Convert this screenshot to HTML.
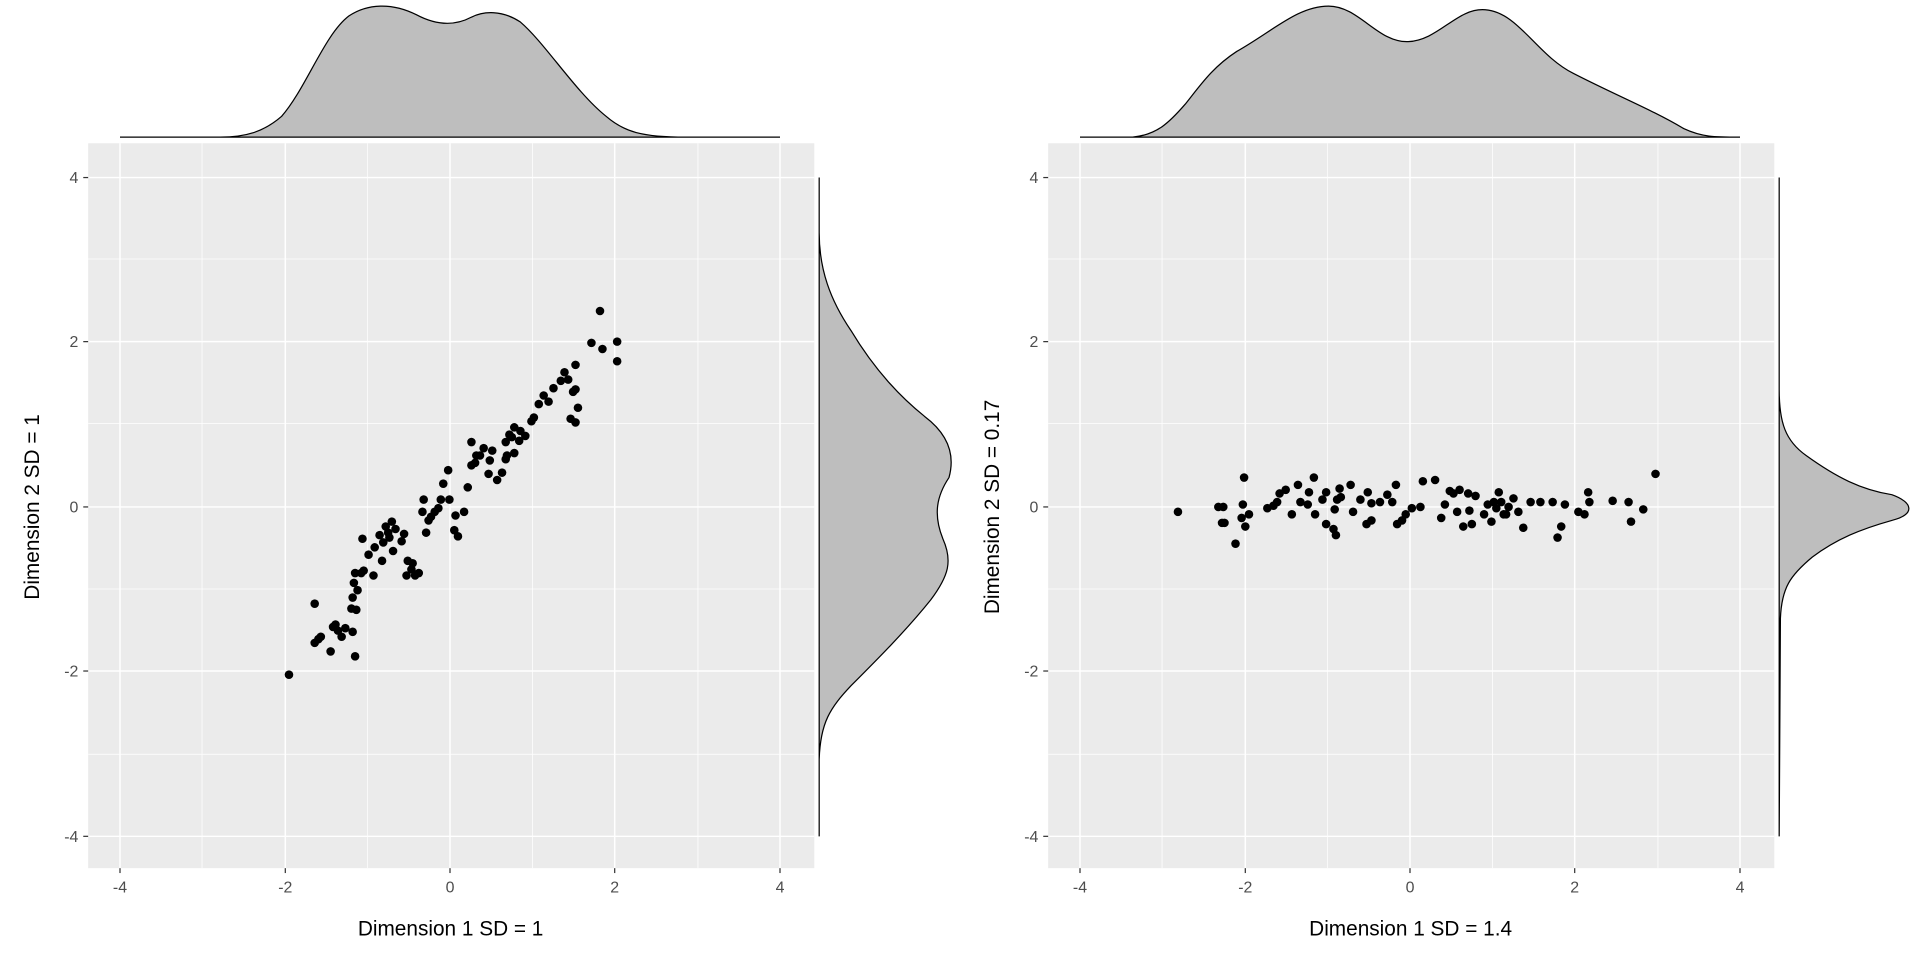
<!DOCTYPE html>
<html><head><meta charset="utf-8"><style>body{margin:0;background:#fff}svg{display:block}</style></head>
<body>
<svg width="1920" height="960" viewBox="0 0 1568 784" xmlns="http://www.w3.org/2000/svg" font-family="Liberation Sans, sans-serif">
<rect width="1568" height="784" fill="#fff"/>
<g id="p1">
<rect x="72" y="117" width="593" height="592" fill="#ebebeb"/>
<g stroke="#fff" stroke-width="0.6">
<line x1="72" x2="665" y1="211.5" y2="211.5"/><line x1="72" x2="665" y1="346" y2="346"/><line x1="72" x2="665" y1="481" y2="481"/><line x1="72" x2="665" y1="616" y2="616"/>
<line y1="117" y2="709" x1="165" x2="165"/><line y1="117" y2="709" x1="300" x2="300"/><line y1="117" y2="709" x1="435" x2="435"/><line y1="117" y2="709" x1="570" x2="570"/>
</g>
<g stroke="#fff" stroke-width="1.2">
<line x1="72" x2="665" y1="145" y2="145"/><line x1="72" x2="665" y1="279" y2="279"/><line x1="72" x2="665" y1="414" y2="414"/><line x1="72" x2="665" y1="548" y2="548"/><line x1="72" x2="665" y1="683" y2="683"/>
<line y1="117" y2="709" x1="98" x2="98"/><line y1="117" y2="709" x1="233" x2="233"/><line y1="117" y2="709" x1="367.5" x2="367.5"/><line y1="117" y2="709" x1="502" x2="502"/><line y1="117" y2="709" x1="637" x2="637"/>
</g>
<g stroke="#333" stroke-width="1">
<line x1="68" x2="72" y1="145" y2="145"/><line x1="68" x2="72" y1="279" y2="279"/><line x1="68" x2="72" y1="414" y2="414"/><line x1="68" x2="72" y1="548" y2="548"/><line x1="68" x2="72" y1="683" y2="683"/>
<line y1="709" y2="713" x1="98" x2="98"/><line y1="709" y2="713" x1="233" x2="233"/><line y1="709" y2="713" x1="367.5" x2="367.5"/><line y1="709" y2="713" x1="502" x2="502"/><line y1="709" y2="713" x1="637" x2="637"/>
</g>
<g fill="#4d4d4d" font-size="13" text-anchor="end">
<text x="64" y="149.5">4</text><text x="64" y="283.5">2</text><text x="64" y="418.5">0</text><text x="64" y="552.5">-2</text><text x="64" y="687.5">-4</text>
</g>
<g fill="#4d4d4d" font-size="13" text-anchor="middle">
<text x="98" y="729">-4</text><text x="233" y="729">-2</text><text x="367.5" y="729">0</text><text x="502" y="729">2</text><text x="637" y="729">4</text>
</g>
<text x="368" y="764" font-size="17" text-anchor="middle">Dimension 1 SD = 1</text>
<text transform="translate(32,414) rotate(-90)" font-size="17" text-anchor="middle">Dimension 2 SD = 1</text>
<path d="M98,112 L180,112 C200,112 215,108 230,95 C250,72 265,28 285,13 C300,3 320,2 340,12 C355,20 370,22 385,14 C395,9 410,8 425,18 C445,35 470,75 495,95 C510,108 525,112 560,112 L637,112 Z" fill="#bebebe" stroke="#000" stroke-width="1"/>
<path d="M669,145 L669,190 C669,220 678,245 695,270 C710,295 730,320 755,340 C775,355 780,372 775,390 C765,405 762,420 770,440 C778,458 775,470 760,490 C740,515 715,540 695,560 C678,578 670,590 669,620 L669,683 Z" fill="#bebebe" stroke="#000" stroke-width="1"/>
<g fill="#000">
<circle cx="236" cy="551" r="3.5"/><circle cx="257" cy="493" r="3.5"/><circle cx="257" cy="525" r="3.5"/><circle cx="260" cy="522" r="3.5"/><circle cx="262" cy="520" r="3.5"/><circle cx="270" cy="532" r="3.5"/><circle cx="272" cy="512" r="3.5"/><circle cx="274" cy="510" r="3.5"/><circle cx="276" cy="515" r="3.5"/><circle cx="279" cy="520" r="3.5"/><circle cx="282" cy="513" r="3.5"/><circle cx="288" cy="516" r="3.5"/><circle cx="290" cy="536" r="3.5"/><circle cx="288" cy="488" r="3.5"/><circle cx="289" cy="476" r="3.5"/><circle cx="290" cy="468" r="3.5"/><circle cx="291" cy="498" r="3.5"/><circle cx="287" cy="497" r="3.5"/><circle cx="292" cy="482" r="3.5"/><circle cx="295" cy="468" r="3.5"/><circle cx="297" cy="466" r="3.5"/><circle cx="296" cy="440" r="3.5"/><circle cx="301" cy="453" r="3.5"/><circle cx="305" cy="470" r="3.5"/><circle cx="306" cy="447" r="3.5"/><circle cx="310" cy="437" r="3.5"/><circle cx="313" cy="443" r="3.5"/><circle cx="312" cy="458" r="3.5"/><circle cx="315" cy="430" r="3.5"/><circle cx="318" cy="439" r="3.5"/><circle cx="317" cy="435" r="3.5"/><circle cx="320" cy="426" r="3.5"/><circle cx="323" cy="432" r="3.5"/><circle cx="321" cy="450" r="3.5"/><circle cx="328" cy="442" r="3.5"/><circle cx="330" cy="436" r="3.5"/><circle cx="332" cy="470" r="3.5"/><circle cx="333" cy="458" r="3.5"/><circle cx="336" cy="465" r="3.5"/><circle cx="337" cy="460" r="3.5"/><circle cx="339" cy="470" r="3.5"/><circle cx="342" cy="468" r="3.5"/><circle cx="348" cy="435" r="3.5"/><circle cx="350" cy="425" r="3.5"/><circle cx="346" cy="408" r="3.5"/><circle cx="352" cy="422" r="3.5"/><circle cx="355" cy="418" r="3.5"/><circle cx="358" cy="415" r="3.5"/><circle cx="362" cy="395" r="3.5"/><circle cx="366" cy="384" r="3.5"/><circle cx="371" cy="433" r="3.5"/><circle cx="372" cy="421" r="3.5"/><circle cx="374" cy="438" r="3.5"/><circle cx="379" cy="418" r="3.5"/><circle cx="382" cy="398" r="3.5"/><circle cx="385" cy="380" r="3.5"/><circle cx="388" cy="378" r="3.5"/><circle cx="389" cy="372" r="3.5"/><circle cx="392" cy="372" r="3.5"/><circle cx="395" cy="366" r="3.5"/><circle cx="399" cy="387" r="3.5"/><circle cx="400" cy="376" r="3.5"/><circle cx="402" cy="368" r="3.5"/><circle cx="406" cy="392" r="3.5"/><circle cx="410" cy="386" r="3.5"/><circle cx="413" cy="375" r="3.5"/><circle cx="413" cy="361" r="3.5"/><circle cx="414" cy="372" r="3.5"/><circle cx="418" cy="357" r="3.5"/><circle cx="420" cy="370" r="3.5"/><circle cx="416" cy="355" r="3.5"/><circle cx="420" cy="349" r="3.5"/><circle cx="424" cy="360" r="3.5"/><circle cx="425" cy="352" r="3.5"/><circle cx="429" cy="356" r="3.5"/><circle cx="434" cy="344" r="3.5"/><circle cx="436" cy="341" r="3.5"/><circle cx="440" cy="330" r="3.5"/><circle cx="444" cy="323" r="3.5"/><circle cx="448" cy="328" r="3.5"/><circle cx="452" cy="317" r="3.5"/><circle cx="458" cy="311" r="3.5"/><circle cx="461" cy="304" r="3.5"/><circle cx="464" cy="310" r="3.5"/><circle cx="468" cy="320" r="3.5"/><circle cx="466" cy="342" r="3.5"/><circle cx="470" cy="345" r="3.5"/><circle cx="472" cy="333" r="3.5"/><circle cx="470" cy="298" r="3.5"/><circle cx="470" cy="318" r="3.5"/><circle cx="483" cy="280" r="3.5"/><circle cx="490" cy="254" r="3.5"/><circle cx="492" cy="285" r="3.5"/><circle cx="504" cy="279" r="3.5"/><circle cx="504" cy="295" r="3.5"/><circle cx="385" cy="361" r="3.5"/><circle cx="367" cy="408" r="3.5"/><circle cx="360" cy="408" r="3.5"/><circle cx="345" cy="418" r="3.5"/>
</g>
</g>
<g id="p2">
<rect x="856" y="117" width="593" height="592" fill="#ebebeb"/>
<g stroke="#fff" stroke-width="0.6">
<line x1="856" x2="1449" y1="211.5" y2="211.5"/><line x1="856" x2="1449" y1="346" y2="346"/><line x1="856" x2="1449" y1="481" y2="481"/><line x1="856" x2="1449" y1="616" y2="616"/>
<line y1="117" y2="709" x1="949" x2="949"/><line y1="117" y2="709" x1="1084" x2="1084"/><line y1="117" y2="709" x1="1219" x2="1219"/><line y1="117" y2="709" x1="1354" x2="1354"/>
</g>
<g stroke="#fff" stroke-width="1.2">
<line x1="856" x2="1449" y1="145" y2="145"/><line x1="856" x2="1449" y1="279" y2="279"/><line x1="856" x2="1449" y1="414" y2="414"/><line x1="856" x2="1449" y1="548" y2="548"/><line x1="856" x2="1449" y1="683" y2="683"/>
<line y1="117" y2="709" x1="882" x2="882"/><line y1="117" y2="709" x1="1017" x2="1017"/><line y1="117" y2="709" x1="1151.5" x2="1151.5"/><line y1="117" y2="709" x1="1286" x2="1286"/><line y1="117" y2="709" x1="1421" x2="1421"/>
</g>
<g stroke="#333" stroke-width="1">
<line x1="852" x2="856" y1="145" y2="145"/><line x1="852" x2="856" y1="279" y2="279"/><line x1="852" x2="856" y1="414" y2="414"/><line x1="852" x2="856" y1="548" y2="548"/><line x1="852" x2="856" y1="683" y2="683"/>
<line y1="709" y2="713" x1="882" x2="882"/><line y1="709" y2="713" x1="1017" x2="1017"/><line y1="709" y2="713" x1="1151.5" x2="1151.5"/><line y1="709" y2="713" x1="1286" x2="1286"/><line y1="709" y2="713" x1="1421" x2="1421"/>
</g>
<g fill="#4d4d4d" font-size="13" text-anchor="end">
<text x="848" y="149.5">4</text><text x="848" y="283.5">2</text><text x="848" y="418.5">0</text><text x="848" y="552.5">-2</text><text x="848" y="687.5">-4</text>
</g>
<g fill="#4d4d4d" font-size="13" text-anchor="middle">
<text x="882" y="729">-4</text><text x="1017" y="729">-2</text><text x="1151.5" y="729">0</text><text x="1286" y="729">2</text><text x="1421" y="729">4</text>
</g>
<text x="1152" y="764" font-size="17" text-anchor="middle">Dimension 1 SD = 1.4</text>
<text transform="translate(816,414) rotate(-90)" font-size="17" text-anchor="middle">Dimension 2 SD = 0.17</text>
<path d="M882,112 L925,112 C945,110 955,100 968,85 C980,70 990,55 1010,42 C1040,25 1060,5 1085,5 C1110,5 1125,35 1150,34 C1175,33 1190,6 1213,8 C1240,10 1255,45 1285,60 C1320,78 1350,90 1375,105 C1390,112 1400,112 1421,112 Z" fill="#bebebe" stroke="#000" stroke-width="1"/>
<path d="M1453,145 L1453,318 C1453,345 1458,360 1475,372 C1500,390 1520,400 1545,404 C1562,410 1565,420 1545,425 C1520,432 1500,440 1480,455 C1462,470 1455,480 1454,505 L1453,683 Z" fill="#bebebe" stroke="#000" stroke-width="1"/>
<g fill="#000">
<circle cx="962" cy="418" r="3.5"/><circle cx="995" cy="414" r="3.5"/><circle cx="999" cy="414" r="3.5"/><circle cx="998" cy="427" r="3.5"/><circle cx="1009" cy="444" r="3.5"/><circle cx="1016" cy="390" r="3.5"/><circle cx="1015" cy="412" r="3.5"/><circle cx="1014" cy="423" r="3.5"/><circle cx="1017" cy="430" r="3.5"/><circle cx="1020" cy="420" r="3.5"/><circle cx="1035" cy="415" r="3.5"/><circle cx="1040" cy="413" r="3.5"/><circle cx="1043" cy="410" r="3.5"/><circle cx="1045" cy="403" r="3.5"/><circle cx="1050" cy="400" r="3.5"/><circle cx="1055" cy="420" r="3.5"/><circle cx="1060" cy="396" r="3.5"/><circle cx="1062" cy="410" r="3.5"/><circle cx="1068" cy="412" r="3.5"/><circle cx="1069" cy="402" r="3.5"/><circle cx="1073" cy="390" r="3.5"/><circle cx="1074" cy="420" r="3.5"/><circle cx="1080" cy="408" r="3.5"/><circle cx="1083" cy="402" r="3.5"/><circle cx="1083" cy="428" r="3.5"/><circle cx="1089" cy="432" r="3.5"/><circle cx="1090" cy="416" r="3.5"/><circle cx="1091" cy="437" r="3.5"/><circle cx="1092" cy="408" r="3.5"/><circle cx="1094" cy="399" r="3.5"/><circle cx="1103" cy="396" r="3.5"/><circle cx="1105" cy="418" r="3.5"/><circle cx="1111" cy="408" r="3.5"/><circle cx="1116" cy="428" r="3.5"/><circle cx="1117" cy="402" r="3.5"/><circle cx="1120" cy="411" r="3.5"/><circle cx="1127" cy="410" r="3.5"/><circle cx="1133" cy="404" r="3.5"/><circle cx="1137" cy="410" r="3.5"/><circle cx="1140" cy="396" r="3.5"/><circle cx="1141" cy="428" r="3.5"/><circle cx="1145" cy="425" r="3.5"/><circle cx="1148" cy="420" r="3.5"/><circle cx="1153" cy="415" r="3.5"/><circle cx="1160" cy="414" r="3.5"/><circle cx="1162" cy="393" r="3.5"/><circle cx="1172" cy="392" r="3.5"/><circle cx="1177" cy="423" r="3.5"/><circle cx="1180" cy="412" r="3.5"/><circle cx="1184" cy="401" r="3.5"/><circle cx="1187" cy="403" r="3.5"/><circle cx="1190" cy="418" r="3.5"/><circle cx="1192" cy="400" r="3.5"/><circle cx="1195" cy="430" r="3.5"/><circle cx="1199" cy="403" r="3.5"/><circle cx="1200" cy="417" r="3.5"/><circle cx="1202" cy="428" r="3.5"/><circle cx="1212" cy="420" r="3.5"/><circle cx="1215" cy="412" r="3.5"/><circle cx="1218" cy="426" r="3.5"/><circle cx="1220" cy="410" r="3.5"/><circle cx="1222" cy="415" r="3.5"/><circle cx="1224" cy="402" r="3.5"/><circle cx="1226" cy="410" r="3.5"/><circle cx="1228" cy="420" r="3.5"/><circle cx="1232" cy="414" r="3.5"/><circle cx="1236" cy="407" r="3.5"/><circle cx="1240" cy="418" r="3.5"/><circle cx="1244" cy="431" r="3.5"/><circle cx="1250" cy="410" r="3.5"/><circle cx="1258" cy="410" r="3.5"/><circle cx="1268" cy="410" r="3.5"/><circle cx="1272" cy="439" r="3.5"/><circle cx="1275" cy="430" r="3.5"/><circle cx="1278" cy="412" r="3.5"/><circle cx="1289" cy="418" r="3.5"/><circle cx="1294" cy="420" r="3.5"/><circle cx="1297" cy="402" r="3.5"/><circle cx="1298" cy="410" r="3.5"/><circle cx="1317" cy="409" r="3.5"/><circle cx="1330" cy="410" r="3.5"/><circle cx="1332" cy="426" r="3.5"/><circle cx="1342" cy="416" r="3.5"/><circle cx="1352" cy="387" r="3.5"/><circle cx="1000" cy="427" r="3.5"/><circle cx="1095" cy="406" r="3.5"/><circle cx="1120" cy="425" r="3.5"/><circle cx="1205" cy="405" r="3.5"/><circle cx="1230" cy="420" r="3.5"/>
</g>
</g>
</svg>
</body></html>
